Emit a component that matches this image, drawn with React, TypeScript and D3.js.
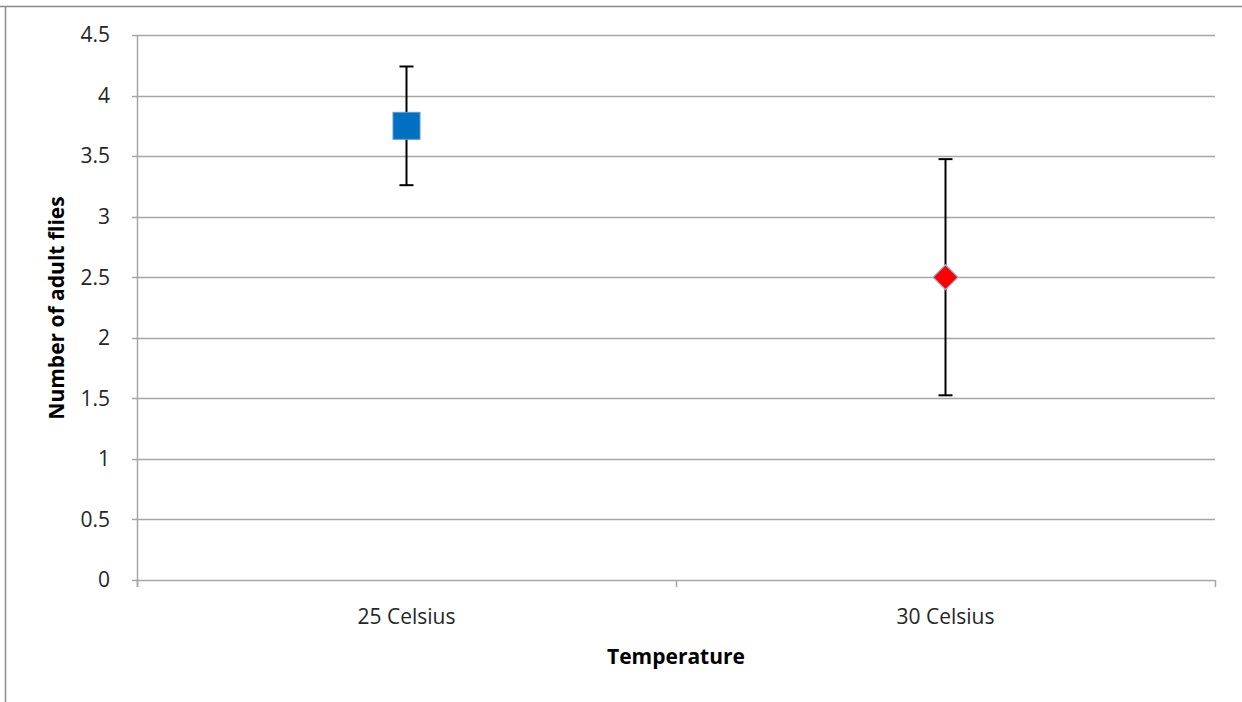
import { useRef, useEffect } from 'react';
import * as d3 from 'd3';

const categories = ['25 Celsius', '30 Celsius'];
const means = [3.75, 2.5];
const errors = [0.49, 0.975];
const yTicks = [0, 0.5, 1, 1.5, 2, 2.5, 3, 3.5, 4, 4.5];
const markerColors = ['#0070C0', '#FF0000'];

export default function App() {
  const svgRef = useRef<SVGSVGElement | null>(null);
  const width = 1242;
  const height = 702;

  useEffect(() => {
    const margin = { top: 35, right: 27, bottom: 122, left: 137 };
    const svg = d3.select(svgRef.current);
    svg.selectAll('*').remove();

    const font = "'Open Sans', sans-serif";
    const fs = 21;

    // frame
    svg.append('line').attr('x1', 0).attr('x2', width).attr('y1', 6.5).attr('y2', 6.5)
      .attr('stroke', '#8c8c8c').attr('stroke-width', 1.5);
    svg.append('line').attr('x1', 5.5).attr('x2', 5.5).attr('y1', 6).attr('y2', height)
      .attr('stroke', '#8c8c8c').attr('stroke-width', 1.5);

    const x = d3.scaleBand().domain(categories)
      .range([margin.left, width - margin.right]);
    const y = d3.scaleLinear().domain([0, 4.5])
      .range([height - margin.bottom, margin.top]);

    // gridlines
    svg.append('g')
      .selectAll('line')
      .data(yTicks)
      .join('line')
      .attr('x1', margin.left - 5)
      .attr('x2', width - margin.right)
      .attr('y1', (d) => Math.round(y(d)) + 0.5)
      .attr('y2', (d) => Math.round(y(d)) + 0.5)
      .attr('stroke', '#a6a6a6')
      .attr('stroke-width', 1.5);

    // y tick labels
    svg.append('g')
      .selectAll('text')
      .data(yTicks)
      .join('text')
      .attr('x', margin.left - 27)
      .attr('y', (d) => y(d))
      .attr('dy', '0.35em')
      .attr('text-anchor', 'end')
      .attr('font-family', font)
      .attr('font-size', fs)
      .attr('fill', '#262626')
      .text((d) => String(d));

    // y axis line
    svg.append('line')
      .attr('x1', margin.left + 0.5).attr('x2', margin.left + 0.5)
      .attr('y1', margin.top).attr('y2', height - margin.bottom + 7)
      .attr('stroke', '#a6a6a6').attr('stroke-width', 1.5);

    // x category ticks
    const bounds = [margin.left, ...categories.map((c) => x(c)! + x.bandwidth())];
    svg.append('g')
      .selectAll('line')
      .data(bounds)
      .join('line')
      .attr('x1', (d) => d + 0.5)
      .attr('x2', (d) => d + 0.5)
      .attr('y1', height - margin.bottom)
      .attr('y2', height - margin.bottom + 7)
      .attr('stroke', '#a6a6a6')
      .attr('stroke-width', 1.5);

    // category labels
    svg.append('g')
      .selectAll('text')
      .data(categories)
      .join('text')
      .attr('x', (d) => x(d)! + x.bandwidth() / 2)
      .attr('y', height - margin.bottom + 37)
      .attr('dy', '0.35em')
      .attr('text-anchor', 'middle')
      .attr('font-family', font)
      .attr('font-size', fs)
      .attr('fill', '#262626')
      .text((d) => d);

    // axis titles
    svg.append('text')
      .attr('x', margin.left + (width - margin.left - margin.right) / 2)
      .attr('y', 657)
      .attr('dy', '0.35em')
      .attr('text-anchor', 'middle')
      .attr('font-family', font)
      .attr('font-weight', 'bold')
      .attr('font-size', fs)
      .attr('fill', '#000')
      .text('Temperature');

    svg.append('text')
      .attr('transform', `translate(57,${308}) rotate(-90)`)
      .attr('dy', '0.35em')
      .attr('text-anchor', 'middle')
      .attr('font-family', font)
      .attr('font-weight', 'bold')
      .attr('font-size', fs)
      .attr('fill', '#000')
      .text('Number of adult flies');

    // error bars
    const eb = svg.append('g')
      .selectAll('g')
      .data(categories)
      .join('g')
      .attr('stroke', '#000')
      .attr('stroke-width', 2);
    eb.append('line')
      .attr('x1', (d) => x(d)! + x.bandwidth() / 2)
      .attr('x2', (d) => x(d)! + x.bandwidth() / 2)
      .attr('y1', (_, i) => y(means[i] + errors[i]))
      .attr('y2', (_, i) => y(means[i] - errors[i]));
    eb.append('line')
      .attr('x1', (d) => x(d)! + x.bandwidth() / 2 - 7)
      .attr('x2', (d) => x(d)! + x.bandwidth() / 2 + 7)
      .attr('y1', (_, i) => y(means[i] + errors[i]))
      .attr('y2', (_, i) => y(means[i] + errors[i]));
    eb.append('line')
      .attr('x1', (d) => x(d)! + x.bandwidth() / 2 - 7)
      .attr('x2', (d) => x(d)! + x.bandwidth() / 2 + 7)
      .attr('y1', (_, i) => y(means[i] - errors[i]))
      .attr('y2', (_, i) => y(means[i] - errors[i]));

    // markers
    const cx0 = x(categories[0])! + x.bandwidth() / 2;
    svg.append('rect')
      .attr('x', cx0 - 13.5)
      .attr('y', y(means[0]) - 13.5)
      .attr('width', 27)
      .attr('height', 27)
      .attr('fill', markerColors[0])
      .attr('stroke', '#5b9bd5')
      .attr('stroke-width', 1);

    const cx1 = x(categories[1])! + x.bandwidth() / 2;
    const cy1 = y(means[1]);
    const r = 12.5;
    svg.append('path')
      .attr('d', `M${cx1},${cy1 - r}L${cx1 + r},${cy1}L${cx1},${cy1 + r}L${cx1 - r},${cy1}Z`)
      .attr('fill', markerColors[1])
      .attr('stroke', '#8eb4e3')
      .attr('stroke-width', 1.2);
  }, []);

  return (
    <div style={{ position: 'absolute', left: 0, top: 0 }}>
      <svg ref={svgRef} width={width} height={height} style={{ display: 'block', background: '#fff' }}></svg>
    </div>
  );
}
